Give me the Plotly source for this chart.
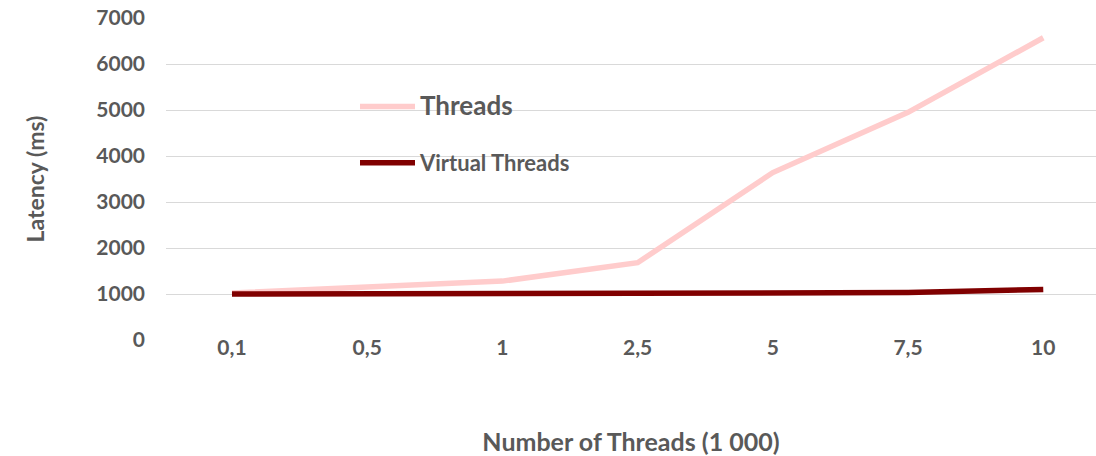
import plotly.graph_objects as go

categories = ["0,1", "0,5", "1", "2,5", "5", "7,5", "10"]
threads = [1020, 1150, 1280, 1680, 3640, 4950, 6570]
virtual_threads = [1000, 1005, 1015, 1035, 1025, 1030, 1100]
y_ticks = [0, 1000, 2000, 3000, 4000, 5000, 6000, 7000]

FONT = "Lato"
GRAY = "#595959"

fig = go.Figure()
fig.add_trace(go.Scatter(
    x=categories, y=threads, mode="lines",
    name="<span style='font-size:26px'><b>Threads</b></span>",
    legendgroup="a",
    line=dict(color="#FFCCCC", width=5.5)))
fig.add_trace(go.Scatter(
    x=categories, y=virtual_threads, mode="lines",
    name="<span style='font-size:22px'><b>Virtual Threads</b></span>",
    legendgroup="b",
    line=dict(color="#800000", width=5.5)))

fig.update_layout(
    width=1096, height=456,
    margin=dict(l=166, r=0, t=18, b=116, autoexpand=False),
    paper_bgcolor="white", plot_bgcolor="white",
    font=dict(family=FONT, color=GRAY),
    xaxis=dict(
        type="category", range=[-0.488, 6.39], showgrid=False, zeroline=False,
        showline=False, ticks="", ticklabelstandoff=-7,
        tickfont=dict(family=FONT, size=21, color=GRAY, weight="bold"),
        title=dict(text="<b>Number of Threads (1 000)</b>", standoff=82,
                   font=dict(family=FONT, size=25, color=GRAY)),
    ),
    yaxis=dict(
        range=[0, 7000], tickvals=y_ticks, showgrid=True, gridcolor="#D9D9D9",
        gridwidth=1.3, zeroline=False, showline=False, ticks="",
        ticklabelstandoff=20,
        tickfont=dict(family=FONT, size=21, color=GRAY, weight="bold"),
        title=dict(text="<b>Latency (ms)</b>", standoff=45,
                   font=dict(family=FONT, size=23, color=GRAY)),
    ),
    showlegend=True,
    legend=dict(
        x=(355 - 166) / 930, y=(340 - 86) / 322.5,
        xanchor="left", yanchor="top", bgcolor="rgba(0,0,0,0)",
        font=dict(family=FONT, size=21, color=GRAY), itemwidth=55,
        traceorder="grouped", tracegroupgap=26,
    ),
)

fig.write_html("out.html")
